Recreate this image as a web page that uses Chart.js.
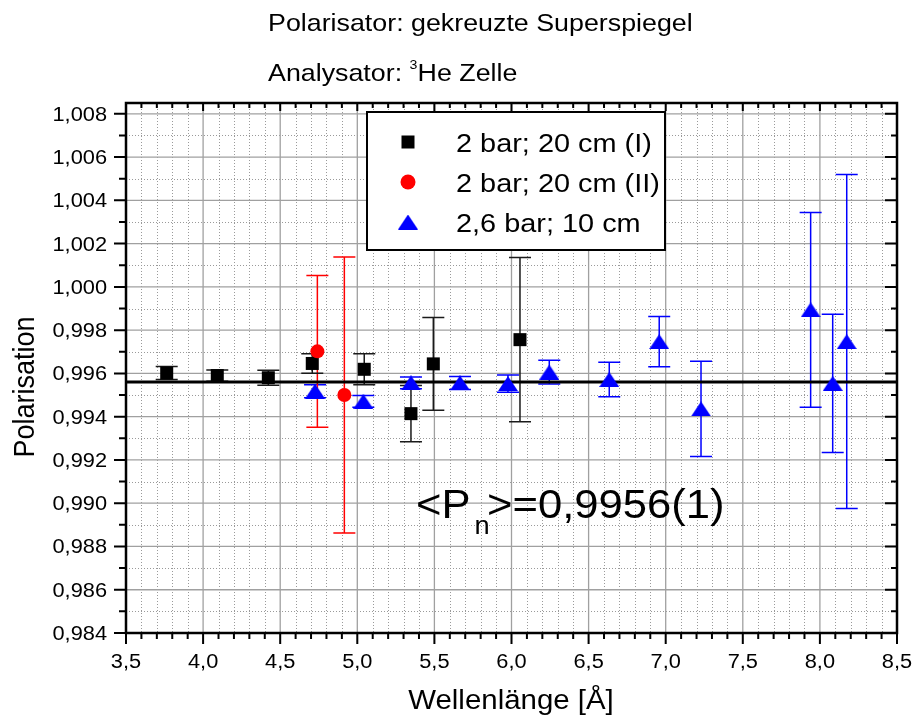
<!DOCTYPE html>
<html>
<head>
<meta charset="utf-8">
<script src="https://cdn.jsdelivr.net/npm/chart.js@4"></script>
<style>
  body { margin: 0; background: #fff; }
  #wrap { width: 914px; height: 717px; position: relative; }
</style>
</head>
<body>
<div id="wrap"><canvas id="polChart"></canvas></div>
<script>
// data
const xBlack = [3.764, 4.092, 4.423, 4.708, 5.045, 5.348, 5.493, 6.055];
const yBlack = [0.99602, 0.99590, 0.99580, 0.99646, 0.99619, 0.99414, 0.99644, 0.99756];
const eBlack = [0.00030, 0.00026, 0.00035, 0.00045, 0.00072, 0.00130, 0.00214, 0.00380];

const xRed = [4.741, 4.916];
const yRed = [0.99702, 0.99500];
const eRed = [0.00351, 0.00638];

const xBlue = [4.726, 5.039, 5.348, 5.666, 5.977, 6.245, 6.634, 6.958, 7.229, 7.940, 8.083, 8.174];
const yBlue = [0.99518, 0.99471, 0.99556, 0.99556, 0.99553, 0.99606, 0.99572, 0.99747, 0.99436, 0.99894, 0.99554, 0.99747];
const eBlue = [0.00030, 0.00027, 0.00027, 0.00030, 0.00040, 0.00055, 0.00080, 0.00116, 0.00220, 0.00450, 0.00320, 0.00772];

const meanP = 0.9956;
const seriesNames = ["2 bar; 20 cm (I)", "2 bar; 20 cm (II)", "2,6 bar; 10 cm"];

const xTicks = [3.5, 4.0, 4.5, 5.0, 5.5, 6.0, 6.5, 7.0, 7.5, 8.0, 8.5];
const xTickLabels = ["3,5", "4,0", "4,5", "5,0", "5,5", "6,0", "6,5", "7,0", "7,5", "8,0", "8,5"];
const yTicks = [0.984, 0.986, 0.988, 0.990, 0.992, 0.994, 0.996, 0.998, 1.000, 1.002, 1.004, 1.006, 1.008];
const yTickLabels = ["0,984", "0,986", "0,988", "0,990", "0,992", "0,994", "0,996", "0,998", "1,000", "1,002", "1,004", "1,006", "1,008"];

const FONT = '"Liberation Sans", Arial, sans-serif';
const SX = 1.09; // text in the reference is a bit wider than Arial

function pts(xs, ys) {
  return xs.map((x, i) => ({ x: x, y: ys[i] }));
}

// triangle marker as a small canvas
function makeTriangle(w, h, color) {
  const c = document.createElement("canvas");
  c.width = w; c.height = h;
  const g = c.getContext("2d");
  g.fillStyle = color;
  g.beginPath();
  g.moveTo(0, h);
  g.lineTo(w / 2, 0);
  g.lineTo(w, h);
  g.closePath();
  g.fill();
  return c;
}
const triBlue = makeTriangle(20, 15, "#0000ff");

function txt(ctx, s, x, y, size, align) {
  ctx.save();
  ctx.font = size + "px " + FONT;
  ctx.textBaseline = "alphabetic";
  ctx.textAlign = "left";
  const w = ctx.measureText(s).width * SX;
  let x0 = x;
  if (align === "center") x0 = x - w / 2;
  if (align === "right") x0 = x - w;
  ctx.translate(x0, y);
  ctx.scale(SX, 1);
  ctx.fillStyle = "#000";
  ctx.fillText(s, 0, 0);
  ctx.restore();
  return w;
}

const gridPlugin = {
  id: "originGrid",
  beforeDatasetsDraw(chart) {
    const ctx = chart.ctx;
    const a = chart.chartArea;
    const xs = chart.scales.x, ys = chart.scales.y;
    ctx.save();
    // minor dotted
    ctx.strokeStyle = "#9a9a9a";
    ctx.lineWidth = 1;
    ctx.setLineDash([1, 2]);
    for (let k = 35; k <= 85; k++) {
      if (k % 5 === 0) continue;
      const px = Math.round(xs.getPixelForValue(k / 10)) + 0.5;
      ctx.beginPath(); ctx.moveTo(px, a.top); ctx.lineTo(px, a.bottom); ctx.stroke();
    }
    for (let k = 984; k <= 1008; k++) {
      if (k % 2 === 0) continue;
      const py = Math.round(ys.getPixelForValue(k / 1000)) + 0.5;
      ctx.beginPath(); ctx.moveTo(a.left, py); ctx.lineTo(a.right, py); ctx.stroke();
    }
    // major solid
    ctx.setLineDash([]);
    ctx.strokeStyle = "#a0a0a0";
    ctx.lineWidth = 1.3;
    xTicks.forEach(v => {
      const px = xs.getPixelForValue(v);
      ctx.beginPath(); ctx.moveTo(px, a.top); ctx.lineTo(px, a.bottom); ctx.stroke();
    });
    yTicks.forEach(v => {
      const py = ys.getPixelForValue(v);
      ctx.beginPath(); ctx.moveTo(a.left, py); ctx.lineTo(a.right, py); ctx.stroke();
    });
    ctx.restore();
  }
};

const errorBarPlugin = {
  id: "errorBars",
  beforeDatasetsDraw(chart) {
    const ctx = chart.ctx;
    const xs = chart.scales.x, ys = chart.scales.y;
    ctx.save();
    chart.data.datasets.forEach(ds => {
      if (!ds.errors) return;
      ctx.strokeStyle = ds.errColor;
      ctx.lineWidth = 1.5;
      ds.data.forEach((p, i) => {
        const px = xs.getPixelForValue(p.x);
        const y1 = ys.getPixelForValue(p.y + ds.errors[i]);
        const y2 = ys.getPixelForValue(p.y - ds.errors[i]);
        ctx.beginPath();
        ctx.moveTo(px, y1); ctx.lineTo(px, y2);
        ctx.moveTo(px - 11, y1); ctx.lineTo(px + 11, y1);
        ctx.moveTo(px - 11, y2); ctx.lineTo(px + 11, y2);
        ctx.stroke();
      });
    });
    ctx.restore();
  }
};

const framePlugin = {
  id: "frameAndText",
  afterDraw(chart) {
    const ctx = chart.ctx;
    const a = chart.chartArea;
    const xs = chart.scales.x, ys = chart.scales.y;
    ctx.save();
    ctx.strokeStyle = "#000";
    ctx.lineWidth = 2.5;
    ctx.strokeRect(a.left, a.top, a.right - a.left, a.bottom - a.top);

    // tick marks
    ctx.lineWidth = 2;
    for (let k = 35; k <= 85; k++) {
      const major = k % 5 === 0;
      const px = xs.getPixelForValue(k / 10);
      ctx.beginPath();
      ctx.moveTo(px, a.bottom); ctx.lineTo(px, a.bottom + (major ? 11 : 6));
      ctx.moveTo(px, a.top); ctx.lineTo(px, a.top + (major ? 8 : 5));
      ctx.stroke();
    }
    for (let k = 984; k <= 1008; k++) {
      const major = k % 2 === 0;
      const py = ys.getPixelForValue(k / 1000);
      ctx.beginPath();
      ctx.moveTo(a.left, py); ctx.lineTo(a.left - (major ? 12 : 7), py);
      ctx.moveTo(a.right, py); ctx.lineTo(a.right - (major ? 12 : 6), py);
      ctx.stroke();
    }

    // tick labels
    xTicks.forEach((v, i) => txt(ctx, xTickLabels[i], xs.getPixelForValue(v), 668, 20, "center"));
    yTicks.forEach((v, i) => txt(ctx, yTickLabels[i], 107, ys.getPixelForValue(v) + 7, 20, "right"));

    // axis titles
    txt(ctx, "Wellenlänge [Å]", 511, 709, 27, "center");
    ctx.save();
    ctx.font = "27px " + FONT;
    const wy = ctx.measureText("Polarisation").width;
    ctx.translate(34, 387);
    ctx.rotate(-Math.PI / 2);
    ctx.scale(1, SX);
    ctx.fillStyle = "#000";
    ctx.fillText("Polarisation", -wy / 2, 0);
    ctx.restore();

    // titles
    txt(ctx, "Polarisator: gekreuzte Superspiegel", 268, 31, 24.6, "left");
    let w = txt(ctx, "Analysator: ", 268, 81, 24.6, "left");
    txt(ctx, "3", 268 + w, 69, 13, "left");
    txt(ctx, "He Zelle", 268 + w + 8, 81, 24.6, "left");

    // annotation
    w = txt(ctx, "<P", 416, 518, 40, "left");
    txt(ctx, "n", 416 + w + 4, 534, 25, "left");
    txt(ctx, ">=0,9956(1)", 487, 518, 40, "left");

    // legend
    ctx.fillStyle = "#fff";
    ctx.fillRect(367, 112, 298, 138);
    ctx.lineWidth = 2;
    ctx.strokeRect(367, 112, 298, 138);
    const rows = [142, 182, 222];
    ctx.fillStyle = "#000";
    ctx.fillRect(408 - 6.5, rows[0] - 6.5, 13, 13);
    ctx.fillStyle = "#ff0000";
    ctx.beginPath(); ctx.arc(408, rows[1], 7.5, 0, Math.PI * 2); ctx.fill();
    ctx.drawImage(triBlue, 408 - 10, rows[2] - 7.5);
    seriesNames.forEach((s, i) => txt(ctx, s, 456, rows[i] + 9.5, 26.5, "left"));
    ctx.restore();
  }
};

const ctx = document.getElementById("polChart").getContext("2d");
new Chart(ctx, {
  type: "scatter",
  data: {
    datasets: [
      {
        label: seriesNames[2],
        data: pts(xBlue, yBlue),
        errors: eBlue,
        errColor: "#0000ff",
        pointStyle: triBlue,
        pointRadius: 9,
        backgroundColor: "#0000ff",
        borderColor: "#0000ff",
        order: 0,
      },
      {
        label: seriesNames[1],
        data: pts(xRed, yRed),
        errors: eRed,
        errColor: "#ff0000",
        pointStyle: "circle",
        pointRadius: 7,
        borderWidth: 0,
        backgroundColor: "#ff0000",
        borderColor: "#ff0000",
        order: 1,
      },
      {
        label: seriesNames[0],
        data: pts(xBlack, yBlack),
        errors: eBlack,
        errColor: "#1a1a1a",
        pointStyle: "rect",
        pointRadius: 9.2,
        borderWidth: 0,
        backgroundColor: "#000",
        borderColor: "#000",
        order: 2,
      },
      {
        type: "line",
        label: "mean",
        data: [{ x: xTicks[0], y: meanP }, { x: xTicks[xTicks.length - 1], y: meanP }],
        borderColor: "#000",
        borderWidth: 3,
        pointRadius: 0,
        order: 3,
      },
    ],
  },
  options: {
    responsive: true,
    maintainAspectRatio: false,
    animation: false,
    layout: { padding: { left: 126, right: 17, top: 103, bottom: 84 } },
    scales: {
      x: { type: "linear", min: 3.5, max: 8.5, display: false },
      y: { type: "linear", min: 0.984, max: 1.0085, display: false },
    },
    plugins: {
      legend: { display: false },
      tooltip: { enabled: false },
    },
  },
  plugins: [gridPlugin, errorBarPlugin, framePlugin],
});
</script>
</body>
</html>
